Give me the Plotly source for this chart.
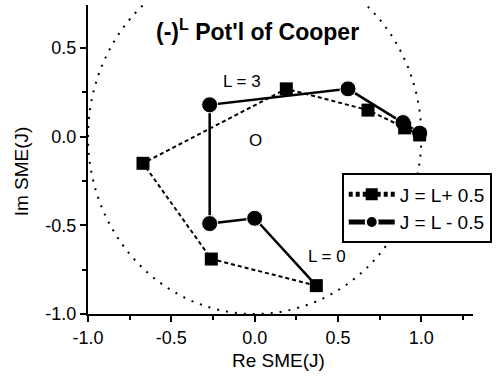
import plotly.graph_objects as go

# J = L + 0.5 (squares, dashed)
sq_re = [0.37, -0.26, -0.67, 0.19, 0.68, 0.90, 0.99]
sq_im = [-0.84, -0.69, -0.15, 0.27, 0.15, 0.05, 0.01]
# J = L - 0.5 (circles, solid); first point is the shared L = 0 value
ci_re = [0.37, 0.00, -0.27, -0.27, 0.56, 0.89, 0.99]
ci_im = [-0.84, -0.46, -0.49, 0.18, 0.27, 0.08, 0.02]

x_ticks = [-1.0, -0.5, 0.0, 0.5, 1.0]
x_labels = ["-1.0", "-0.5", "0.0", "0.5", "1.0"]
y_ticks = [-1.0, -0.5, 0.0, 0.5]
y_labels = ["-1.0", "-0.5", "0.0", "0.5"]

FONT = "Liberation Sans, Arial, sans-serif"

fig = go.Figure()

fig.add_shape(type="circle", xref="x", yref="y", x0=-1, y0=-1, x1=1, y1=1,
              line=dict(color="black", width=2, dash="2px,7px"), layer="below")

fig.add_trace(go.Scatter(
    x=ci_re, y=ci_im, mode="lines+markers", name="J = L - 0.5",
    line=dict(color="black", width=2.5),
    marker=dict(symbol="circle", color="black", opacity=1,
                size=[0] + [16] * (len(ci_re) - 1)),
    legendrank=2,
))
fig.add_trace(go.Scatter(
    x=sq_re, y=sq_im, mode="lines+markers", name="J = L+ 0.5",
    line=dict(color="black", width=2, dash="4px,3px"),
    marker=dict(symbol="square", color="black", size=13, opacity=1),
    legendrank=1,
))

lab_font = dict(family=FONT, size=17, color="black")
ax_font = dict(family=FONT, size=19, color="black")
fig.add_annotation(x=0.015, y=0.60, xref="x", yref="y", showarrow=False,
                   text="<b>(-)<sup>L</sup> Pot'l of Cooper</b>",
                   font=dict(family=FONT, size=23, color="black"))
fig.add_annotation(x=-0.079, y=0.314, xref="x", yref="y", showarrow=False,
                   text="L = 3", font=lab_font)
fig.add_annotation(x=0.434, y=-0.677, xref="x", yref="y", showarrow=False,
                   text="L = 0", font=lab_font)
fig.add_annotation(x=0.006, y=-0.019, xref="x", yref="y", showarrow=False,
                   text="O", font=lab_font)
fig.add_annotation(x=0.494, y=-0.149, xref="paper", yref="paper", showarrow=False,
                   xanchor="center", yanchor="middle",
                   text="Re SME(J)", font=ax_font)
fig.add_annotation(x=-0.1705, y=0.463, xref="paper", yref="paper", showarrow=False,
                   xanchor="center", yanchor="middle",
                   text="Im SME(J)", textangle=-90, font=ax_font)

axis_common = dict(showline=True, linecolor="black", linewidth=2, showgrid=False,
                   zeroline=False, ticks="outside", ticklen=6, tickwidth=2,
                   tickcolor="black",
                   tickfont=dict(family=FONT, size=18, color="black"),
                   minor=dict(ticks="outside", ticklen=4, tickwidth=2,
                              tickcolor="black", dtick=0.25, showgrid=False))

fig.update_layout(
    width=498, height=384,
    margin=dict(l=88, r=25, t=5, b=70),
    paper_bgcolor="white", plot_bgcolor="white",
    xaxis=dict(range=[-1.0, 1.31], tickvals=x_ticks, ticktext=x_labels, **axis_common),
    yaxis=dict(range=[-1.0, 0.743], tickvals=y_ticks, ticktext=y_labels, **axis_common),
    showlegend=True,
    legend=dict(x=0.659, y=0.455, xanchor="left", yanchor="top",
                bordercolor="black", borderwidth=2, bgcolor="white",
                font=dict(family=FONT, size=19, color="black"),
                itemsizing="constant", itemwidth=46, tracegroupgap=0),
)

fig.write_html("out.html")
